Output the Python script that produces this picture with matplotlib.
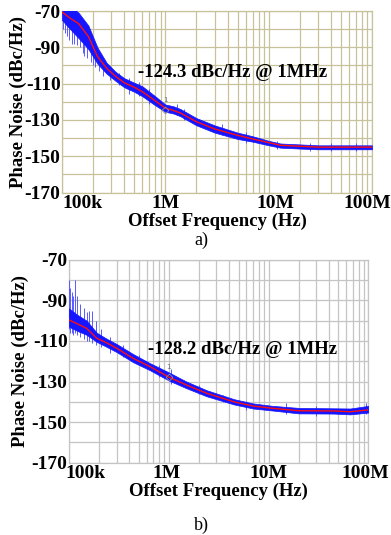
import numpy as np
import matplotlib
matplotlib.use('Agg')
import matplotlib.pyplot as plt
from matplotlib.ticker import MultipleLocator, LogLocator, NullFormatter
from matplotlib.transforms import ScaledTranslation

plt.rcParams['axes.unicode_minus'] = False

# ---- datos ----
# a) oscilador 1
freq_a = [1e5, 1.2e5, 1.45e5, 1.8e5, 2.2e5, 2.7e5, 3.3e5, 4e5, 5e5, 6e5, 8e5,
          1e6, 1.2e6, 1.4e6, 2e6, 3e6, 5e6, 7e6, 1e7, 1.3e7, 2e7, 3e7, 5e7, 1e8]
pn_a = [-70.5, -74, -77, -84, -95, -101.5, -106, -109.5, -112, -114.5, -119.5,
        -123.5, -124.8, -126.2, -131, -135, -138.5, -140.5, -142.5, -144, -144.5, -145, -145, -145]
hi_a = [-63, -67, -71, -78, -90, -98.5, -103.5, -107, -109.5, -111.5, -117,
        -121.5, -122.5, -124, -129, -133, -137, -139, -141.5, -143, -143.5, -144, -144, -144]
lo_a = [-75, -80, -85, -91, -99, -104.5, -108.5, -112, -114.5, -117, -122,
        -125.5, -126.5, -128, -133, -137, -140.5, -142, -144, -145.3, -145.8, -146.2, -146.2, -146.2]
spk_f_a = [1.03e5, 1.08e5, 1.12e5, 1.18e5, 1.25e5, 1.32e5, 1.4e5, 1.5e5, 1.58e5, 1.65e5,
           1.75e5, 1.9e5, 2.0e5, 2.1e5, 2.3e5, 2.5e5, 2.9e5, 3.6e5, 4.5e5, 5.5e5,
           7e5, 1.3e6, 1.5e6, 3.5e6, 6e6, 1.2e7, 2.5e7, 4e7, 7e7]
spk_hi_a = [-60, -60, -62, -63, -64, -70, -72, -74, -76, -77,
            -82, -83, -86, -87, -93, -96, -101, -104, -107, -109,
            -113, -121.5, -124, -132, -136.5, -141.5, -142.5, -143, -143]
spk_lo_a = [-80, -82, -84, -86, -88, -88, -89, -90, -93, -95,
            -96, -98, -100, -101, -103, -106, -108, -111, -116, -117,
            -121, -127.5, -130, -138.5, -142.5, -146, -147, -147, -147]

# b) oscilador 2
freq_b = [1e5, 1.2e5, 1.5e5, 1.9e5, 2.4e5, 3e5, 4.4e5, 6.5e5, 1e6, 1.5e6, 2.4e6,
          4.5e6, 7e6, 1.1e7, 2e7, 4.5e7, 6.6e7, 1e8]
pn_b = [-99.7, -101.5, -103.8, -108.7, -111, -113.6, -118.6, -122.7, -127.8, -131.7, -135.8,
        -140, -142.1, -143.2, -144.4, -144.5, -144.9, -144]
hi_b = [-94, -97, -100, -106, -109, -111.5, -116.5, -121, -125.5, -130, -134.3,
        -138.7, -140.8, -142, -143, -143.2, -143.3, -142]
lo_b = [-103, -105, -107, -110.5, -113, -115.5, -120.5, -124.5, -129.5, -133.3, -137.3,
        -141.3, -143.3, -144.3, -145.7, -145.8, -146.2, -145.3]
spk_f_b = [1e5, 1.02e5, 1.06e5, 1.1e5, 1.15e5, 1.2e5, 1.3e5, 1.4e5, 1.52e5, 1.6e5,
           1.7e5, 1.85e5, 2.1e5, 2.6e5, 3.5e5, 5e5, 8e5, 1.05e6, 2e6, 3.5e6,
           6e6, 1.5e7, 3e7, 9.5e7]
spk_hi_b = [-80, -84, -86, -88, -80, -88, -92, -94, -96, -95.5,
            -95.5, -100, -104, -108, -112, -117, -122, -124, -131.5, -136.5,
            -139.5, -140.5, -142, -140.5]
spk_lo_b = [-104, -106, -106, -107, -106, -107, -108, -109, -110, -110,
            -111, -112, -113, -116, -118, -122, -128, -131, -136, -140,
            -144, -146, -147, -146]

ticks_x = [1e5, 1e6, 1e7, 1e8]
labels_x = ['100k', '1M', '10M', '100M']
ticks_y = [-170, -150, -130, -110, -90, -70]

notas = ['-124.3 dBc/Hz @ 1MHz', '-128.2 dBc/Hz @ 1MHz']
marcas = [-124.3, -127.8]

SERIF = ['Liberation Serif', 'DejaVu Serif']
AZUL = '#1515ff'
AZUL_CLARO = '#5a5aff'
ROJO = '#ff1010'


def panel(fig, rect, f, pn, hi, lo, sf, shi, slo, nota, marca, nota_xy, gcol, letra, letra_y, desp, ylab_x):
    ax = fig.add_axes(rect)
    ax.set_xscale('log')
    ax.set_xlim(1e5, 1e8)
    ax.set_ylim(-170, -70)

    ax.vlines(sf, slo, shi, color=AZUL_CLARO, lw=0.7, zorder=3)
    ax.fill_between(f, lo, hi, color=AZUL, lw=0.5, zorder=3)
    ax.plot(f, pn, color=ROJO, lw=1.0, zorder=4)

    # marcador 1 @ 1MHz
    ax.plot([1e6], [marca], marker='D', ms=3.5, mfc='none', mec='#909090', mew=0.6, zorder=5)
    ax.text(1e6, marca + 3.5, '1', fontsize=5, color='#707070', ha='center', va='bottom', zorder=5)

    ax.text(nota_xy[0], nota_xy[1], nota, transform=fig.transFigure, fontsize=13.5,
            fontweight='bold', family=SERIF, ha='left', va='center')

    ax.set_xticks(ticks_x)
    ax.set_xticklabels(labels_x)
    ax.xaxis.set_minor_locator(LogLocator(base=10, subs=np.arange(2, 10)))
    ax.xaxis.set_minor_formatter(NullFormatter())
    ax.set_yticks(ticks_y)
    ax.yaxis.set_minor_locator(MultipleLocator(10))
    ax.tick_params(which='both', length=0)
    ax.tick_params(axis='x', pad=2)
    ax.tick_params(axis='y', pad=1)
    for lab in ax.get_xticklabels() + ax.get_yticklabels():
        lab.set_fontsize(14)
        lab.set_fontweight('bold')
        lab.set_family(SERIF)
    xl = ax.get_xticklabels()
    for lab, dx in zip(xl, desp):
        lab.set_transform(lab.get_transform() + ScaledTranslation(dx / 100, 0, fig.dpi_scale_trans))
    xl[0].set_ha('left')

    ax.grid(True, which='both', color=gcol, lw=0.9, zorder=0)
    ax.set_axisbelow(True)
    for s in ax.spines.values():
        s.set_color(gcol)
        s.set_linewidth(0.9)

    ax.set_xlabel('Offset Frequency (Hz)', fontsize=13.5, fontweight='bold', family=SERIF, labelpad=0)
    ax.set_ylabel('Phase Noise (dBc/Hz)', fontsize=13.5, fontweight='bold', family=SERIF)
    ax.yaxis.set_label_coords(ylab_x, 0.5)

    fig.text(0.515, letra_y, letra, fontsize=13, family=SERIF, ha='center', va='center')
    return ax


fig = plt.figure(figsize=(3.91, 5.35), dpi=100)

panel(fig, [62 / 391, 1 - 192.5 / 535, 310 / 391, 181.5 / 535],
      freq_a, pn_a, hi_a, lo_a, spk_f_a, spk_hi_a, spk_lo_a,
      notas[0], marcas[0], (138 / 391, 1 - 72 / 535), '#c8c29c', 'a)', 1 - 240 / 535,
      [0, 0, 7, -5], (27 - 62) / 310)

panel(fig, [69 / 391, 1 - 462.7 / 535, 299.3 / 391, 203 / 535],
      freq_b, pn_b, hi_b, lo_b, spk_f_b, spk_hi_b, spk_lo_b,
      notas[1], marcas[1], (148 / 391, 1 - 349 / 535), '#c4c4c4', 'b)', 1 - 525 / 535,
      [-4, -2, 0, -3], (29 - 69) / 299.3)

fig.savefig('out.png', dpi=100)
